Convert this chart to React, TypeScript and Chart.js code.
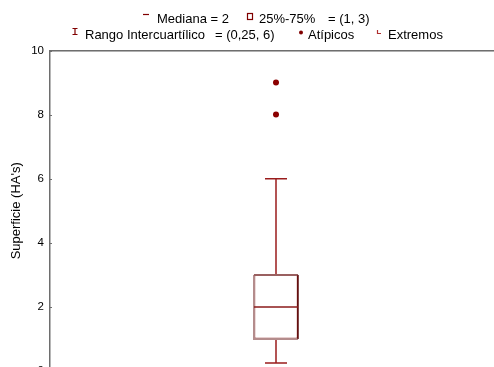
import React, { useEffect, useRef } from "react";
import { Chart, registerables } from "chart.js";

Chart.register(...registerables);

const categories = ["Superficie"];
const boxRange: [number, number][] = [[1, 3]];
const medians = [2];
const whiskerLow = [0.25];
const whiskerHigh = [6];
const outliers = [8, 9];
const yTicks = [0, 2, 4, 6, 8, 10];
const legendLine1 = ["Mediana = 2", "25%-75%", "= (1, 3)"];
const legendLine2 = ["Rango Intercuartílico", "= (0,25, 6)", "Atípicos", "Extremos"];
const yTitle = "Superficie (HA's)";

const RED = "#800000";
const WHISK = "#9a1c1c";
const FONT = "'Liberation Sans', Arial, sans-serif";

const boxPlugin = {
  id: "boxExtras",
  afterDatasetsDraw(chart: any) {
    const { ctx, scales, chartArea } = chart;
    const x = scales.x;
    const y = scales.y;
    ctx.save();
    // top border (3D-ish)
    ctx.lineWidth = 1;
    ctx.strokeStyle = "#6e6e6e";
    ctx.beginPath();
    ctx.moveTo(chartArea.left, Math.round(chartArea.top) - 0.5);
    ctx.lineTo(chartArea.right + 20, Math.round(chartArea.top) - 0.5);
    ctx.stroke();
    ctx.strokeStyle = "#b0b0b0";
    ctx.beginPath();
    ctx.moveTo(chartArea.left, Math.round(chartArea.top) + 0.5);
    ctx.lineTo(chartArea.right + 20, Math.round(chartArea.top) + 0.5);
    ctx.stroke();
    // inward ticks
    ctx.strokeStyle = "#6e6e6e";
    yTicks.forEach((t) => {
      const py = Math.round(y.getPixelForValue(t)) + 0.5;
      ctx.beginPath();
      ctx.moveTo(chartArea.left, py);
      ctx.lineTo(chartArea.left + 2, py);
      ctx.stroke();
    });
    categories.forEach((c, i) => {
      const cx = x.getPixelForValue(i);
      const capHalf = 11;
      const boxHalf = 22;
      const q1 = y.getPixelForValue(boxRange[i][0]);
      const q3 = y.getPixelForValue(boxRange[i][1]);
      const lo = y.getPixelForValue(whiskerLow[i]);
      const hi = y.getPixelForValue(whiskerHigh[i]);
      const md = y.getPixelForValue(medians[i]);
      ctx.lineWidth = 1.5;
      ctx.strokeStyle = WHISK;
      ctx.beginPath();
      ctx.moveTo(cx, q3 - 1);
      ctx.lineTo(cx, hi);
      ctx.moveTo(cx - capHalf, hi);
      ctx.lineTo(cx + capHalf, hi);
      ctx.moveTo(cx, q1 + 1);
      ctx.lineTo(cx, lo);
      ctx.moveTo(cx - capHalf, lo);
      ctx.lineTo(cx + capHalf, lo);
      ctx.stroke();
      // shaded box edges
      ctx.lineWidth = 2;
      ctx.strokeStyle = "#b48c8c";
      ctx.beginPath();
      ctx.moveTo(cx - boxHalf, q3);
      ctx.lineTo(cx - boxHalf, q1);
      ctx.lineTo(cx + boxHalf, q1);
      ctx.stroke();
      ctx.strokeStyle = "#9a6060";
      ctx.beginPath();
      ctx.moveTo(cx - boxHalf, q3);
      ctx.lineTo(cx + boxHalf, q3);
      ctx.stroke();
      ctx.strokeStyle = "#5e1414";
      ctx.lineWidth = 1.5;
      ctx.beginPath();
      ctx.moveTo(cx + boxHalf, q3);
      ctx.lineTo(cx + boxHalf, q1);
      ctx.stroke();
      ctx.strokeStyle = "#8b1a1a";
      ctx.beginPath();
      ctx.moveTo(cx - boxHalf, md);
      ctx.lineTo(cx + boxHalf, md);
      ctx.stroke();
    });
    ctx.restore();
  },
  afterDraw(chart: any) {
    const { ctx } = chart;
    ctx.save();
    ctx.font = `13px ${FONT}`;
    ctx.fillStyle = "#000";
    ctx.textBaseline = "alphabetic";
    ctx.textAlign = "left";
    // line 1
    const b1 = 23;
    ctx.strokeStyle = RED;
    ctx.lineWidth = 1.2;
    ctx.beginPath();
    ctx.moveTo(143, 14.5);
    ctx.lineTo(149, 14.5);
    ctx.stroke();
    ctx.fillText(legendLine1[0], 157, b1);
    ctx.strokeRect(247.5, 13.5, 5, 6);
    ctx.fillText(legendLine1[1], 259, b1);
    ctx.fillText(legendLine1[2], 328, b1);
    // line 2
    const b2 = 39;
    ctx.beginPath();
    ctx.moveTo(75, 28);
    ctx.lineTo(75, 35);
    ctx.moveTo(72.5, 28.5);
    ctx.lineTo(77.5, 28.5);
    ctx.moveTo(72.5, 34.5);
    ctx.lineTo(77.5, 34.5);
    ctx.stroke();
    ctx.fillText(legendLine2[0], 85, b2);
    ctx.fillText(legendLine2[1], 215, b2);
    ctx.fillStyle = RED;
    ctx.beginPath();
    ctx.arc(301, 32.5, 2, 0, Math.PI * 2);
    ctx.fill();
    ctx.fillStyle = "#000";
    ctx.fillText(legendLine2[2], 308, b2);
    ctx.strokeStyle = "#b03030";
    ctx.beginPath();
    ctx.moveTo(377.5, 30);
    ctx.lineTo(377.5, 33.5);
    ctx.lineTo(381, 33.5);
    ctx.stroke();
    ctx.fillText(legendLine2[3], 388, b2);
    ctx.restore();
  },
};

export default function App() {
  const ref = useRef<HTMLCanvasElement>(null);
  useEffect(() => {
    if (!ref.current) return;
    const chart = new Chart(ref.current, {
      type: "bar",
      data: {
        labels: categories,
        datasets: [
          {
            type: "bar",
            data: boxRange as any,
            backgroundColor: "#ffffff",
            borderColor: RED,
            borderWidth: 1.5,
            borderSkipped: false,
            barThickness: 44,
          } as any,
          {
            type: "line",
            data: outliers.map((v) => ({ x: categories[0], y: v })) as any,
            showLine: false,
            pointRadius: 3,
            pointBackgroundColor: "#8b0000",
            pointBorderColor: "#8b0000",
            pointBorderWidth: 0,
          } as any,
        ],
      },
      options: {
        responsive: false,
        animation: false,
        layout: { padding: { top: 50.5, left: 0, right: 8, bottom: 8 } },
        plugins: { legend: { display: false }, tooltip: { enabled: false } },
        scales: {
          x: { display: false },
          y: {
            min: 0,
            max: 10,
            afterBuildTicks: (s: any) => {
              s.ticks = yTicks.map((v) => ({ value: v }));
            },
            border: { display: true, color: "#6e6e6e", width: 1.5 },
            grid: { drawOnChartArea: false, drawTicks: false },
            ticks: {
              color: "#000",
              padding: 6,
              font: { family: FONT, size: 11.5 },
            },
            title: {
              display: true,
              text: yTitle,
              color: "#000",
              font: { family: FONT, size: 13 },
              padding: { top: 9, bottom: 0 },
            },
            afterFit: (s: any) => {
              s.width = 50;
            },
          },
        },
      },
      plugins: [boxPlugin],
    });
    return () => chart.destroy();
  }, []);
  return (
    <div
      style={{
        position: "fixed",
        left: 0,
        top: 0,
        width: 494,
        height: 367,
        overflow: "hidden",
        background: "#fff",
      }}
    >
      <canvas ref={ref} width={510} height={384} style={{ width: 510, height: 384, display: "block" }} />
    </div>
  );
}
